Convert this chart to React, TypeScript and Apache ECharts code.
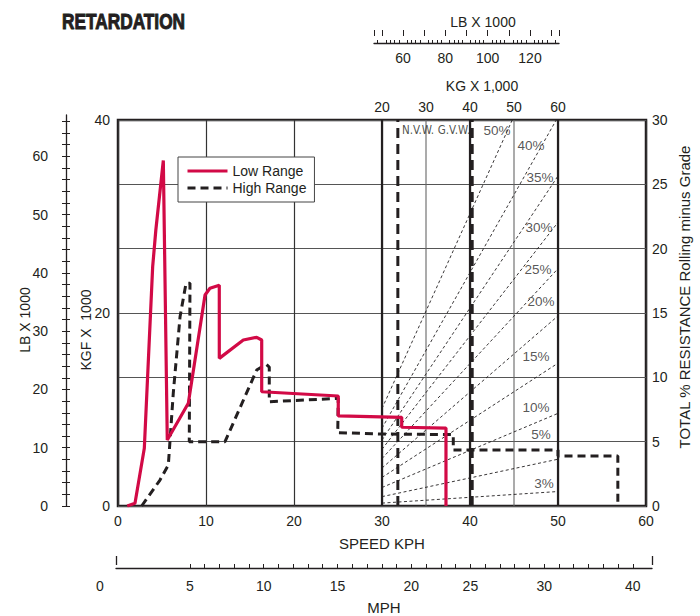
import React, { useEffect, useRef } from "react";
import * as echarts from "echarts";

// ---------- data ----------
// Speed (KPH) vs retarding force (KGF x 1000)
const lowRange: [number, number][] = [
  [1.05, 0], [1.93, 0.28], [2.99, 5.98], [3.94, 24.8], [4.3, 28.6], [5.15, 35.8],
  [5.6, 6.84], [7.99, 10.64], [9.89, 21.87], [10.45, 22.56], [11.51, 22.87],
  [11.51, 15.3], [14.24, 17.2], [15.76, 17.48], [16.33, 17.2], [16.33, 11.84],
  [25.03, 11.4], [25.03, 9.33], [32.24, 9.19], [32.24, 8.16], [37.27, 8.08], [37.27, 0],
];
const highRange: [number, number][] = [
  [2.69, 0], [4.77, 2.69], [5.72, 4.25], [6.28, 11.68], [7.05, 19.6], [7.73, 23.08],
  [8.18, 23.08], [8.1, 6.66], [12.16, 6.66], [15.76, 14.09], [16.82, 14.7], [17.19, 14.4],
  [17.19, 10.8], [25.03, 11.16], [24.97, 7.6], [29.77, 7.46], [38.1, 7.4], [38.1, 5.8],
  [50.0, 5.8], [50.0, 5.18], [56.8, 5.18], [56.8, 0],
];

// Grade (total resistance) lines of the weight nomogram, [kph, kgf] end points
const gradeNames = ["50%", "40%", "35%", "30%", "25%", "20%", "15%", "10%", "5%", "3%"];
const gradeStart: [number, number][] = [
  [30, 10.1], [30, 8.06], [30, 6.84], [30, 5.88], [30, 4.92],
  [30, 3.94], [30, 2.96], [30, 1.92], [30, 0.97], [30, 0.3],
];
const gradeEnd: [number, number][] = [
  [44.8, 40], [49.8, 40], [50, 34.2], [50, 29.4], [50, 24.6],
  [50, 19.7], [50, 14.8], [50, 9.6], [50, 4.85], [50, 1.5],
];
const gradeLabelAt: [number, number][] = [
  [43.07, 38.96], [46.93, 37.31], [47.95, 33.99], [47.84, 28.81], [47.73, 24.46],
  [48.07, 21.14], [47.5, 15.54], [47.5, 10.16], [48.07, 7.46], [48.41, 2.38],
];

// Vehicle weight markers (kph position on the nomogram)
const weightMarkNames = ["N.V.W.", "G.V.W."];
const weightMarkAt = [31.8, 40.25];
const weightMarkLabelAt: [number, number][] = [[34.09, 38.96], [38.18, 38.96]];

// Grid lines
const heavyVerticals = [30, 40, 50];
const lightVerticals = [35, 45];

// Tick labels
const kgLabels = [20, 30, 40, 50, 60];
const mphLabelAt = [0, 5, 10, 15, 20, 24, 29, 35];
const mphLabelText = ["0", "5", "10", "15", "20", "25", "30", "40"];
const mphTicks = [5, 6, 7, 8, 9, 10, 11, 12, 13, 14, 15, 16, 17, 18, 19, 20, 21, 22, 23, 24, 25, 26, 27, 28, 29, 30, 31, 32, 33, 34, 35];
const mphMax = 36.3;
const lbTopLabels = [60, 80, 100, 120];
const lbTopMinor = [48, 52, 54, 56, 58, 62, 64, 66, 68, 72, 74, 76, 78, 82, 84, 86, 88, 92, 94, 96, 98, 102, 104, 106, 108, 112, 114, 116, 118, 122, 124, 126, 128, 132];
const lbTopMajor = [46.3, 50, 60, 70, 80, 90, 100, 110, 120, 130, 133.7];
const lbLeftLabels = [0, 10, 20, 30, 40, 50, 60];
const lbLeftTicks = [0, 2, 4, 6, 8, 10, 12, 14, 16, 18, 20, 22, 24, 26, 28, 30, 32, 34, 36, 38, 40, 42, 44, 46, 48, 50, 52, 54, 56, 58, 60, 62, 64, 66];
const lbLeftMax = 67.1;

const FONT = '"Liberation Sans", Arial, Helvetica, sans-serif';
const NARROW = '"Liberation Sans Narrow", "Arial Narrow", "DejaVu Sans Condensed", sans-serif';
const INK = "#231f20";
const RED = "#d20a46";

export default function App() {
  const ref = useRef<HTMLDivElement>(null);

  useEffect(() => {
    if (!ref.current) return;
    const chart = echarts.init(ref.current, undefined, { renderer: "svg" });

    const tickLabel = { fontSize: 14, color: INK, fontFamily: FONT };

    const series: any[] = [];
    heavyVerticals.forEach((v) =>
      series.push({
        type: "line", xAxisIndex: 0, yAxisIndex: 0, silent: true, symbol: "none", z: 1,
        data: [[v, 0], [v, 40]], lineStyle: { color: INK, width: 2.2 },
      })
    );
    lightVerticals.forEach((v) =>
      series.push({
        type: "line", xAxisIndex: 0, yAxisIndex: 0, silent: true, symbol: "none", z: 1,
        data: [[v, 0], [v, 40]], lineStyle: { color: "#666", width: 1.1 },
      })
    );
    gradeNames.forEach((n, i) =>
      series.push({
        type: "line", name: "grade " + n, xAxisIndex: 0, yAxisIndex: 0, silent: true, symbol: "none", z: 2,
        data: [gradeStart[i], gradeEnd[i]], lineStyle: { color: INK, width: 0.9, type: [3, 2.5] },
      })
    );
    series.push({
      type: "scatter", xAxisIndex: 0, yAxisIndex: 0, silent: true, symbolSize: 0, z: 3,
      data: gradeNames.map((n, i) => ({ name: n, value: gradeLabelAt[i] })),
      label: { show: true, position: "inside", formatter: (p: any) => p.name, fontSize: 13.5, color: "#2b2b2b", fontFamily: FONT },
    });
    weightMarkAt.forEach((v) =>
      series.push({
        type: "line", xAxisIndex: 0, yAxisIndex: 0, silent: true, symbol: "none", z: 3,
        data: [[v, 0], [v, 40]], lineStyle: { color: INK, width: 3, type: [10, 6] },
      })
    );
    series.push({
      type: "scatter", xAxisIndex: 0, yAxisIndex: 0, silent: true, symbolSize: 0, z: 3,
      data: weightMarkNames.map((n, i) => ({ name: n, value: weightMarkLabelAt[i] })),
      label: { show: true, position: "inside", formatter: (p: any) => p.name, fontSize: 11.5, color: INK, fontFamily: NARROW },
    });
    series.push({
      type: "line", name: "High Range", xAxisIndex: 0, yAxisIndex: 0, symbol: "none", z: 5,
      data: highRange, lineStyle: { color: INK, width: 3, type: [8, 5] }, itemStyle: { color: INK },
    });
    series.push({
      type: "line", name: "Low Range", xAxisIndex: 0, yAxisIndex: 0, symbol: "none", z: 6,
      data: lowRange, lineStyle: { color: RED, width: 3.2 }, itemStyle: { color: RED },
    });

    const option: any = {
      animation: false,
      textStyle: { fontFamily: FONT },
      legend: {
        data: ["Low Range", "High Range"],
        left: 178, top: 157, orient: "vertical",
        padding: [7, 8, 7, 8], itemGap: 3, itemWidth: 40, itemHeight: 14,
        backgroundColor: "#fff", borderColor: "#444", borderWidth: 1,
        itemStyle: { opacity: 0, borderWidth: 0 },
        lineStyle: { width: 3 },
        textStyle: { fontSize: 14, color: INK, fontFamily: FONT },
      },
      grid: [
        { left: 118, top: 120, width: 528, height: 386, show: true, borderColor: INK, borderWidth: 2.5, backgroundColor: "transparent" },
        { left: 116, top: 556, width: 536, height: 12 },
        { left: 374, top: 30, width: 185, height: 13 },
        { left: 66, top: 115, width: 1, height: 391 },
      ],
      xAxis: [
        {
          gridIndex: 0, type: "value", min: 0, max: 60, interval: 10,
          axisLine: { show: false }, axisTick: { show: false },
          axisLabel: { ...tickLabel, margin: 8 },
          splitLine: { show: true, lineStyle: { color: "#333", width: 1.2 } },
          name: "SPEED KPH", nameLocation: "middle", nameGap: 30, nameMoveOverlap: false,
          nameTextStyle: { fontSize: 15, color: INK, fontFamily: FONT },
        },
        {
          gridIndex: 0, type: "value", position: "top", min: -40, max: 80, interval: 10,
          axisLine: { show: false }, axisTick: { show: false }, splitLine: { show: false },
          axisLabel: { ...tickLabel, margin: 6, formatter: (v: number) => (kgLabels.indexOf(v) >= 0 ? String(v) : "") },
        },
        {
          gridIndex: 1, type: "value", min: 0, max: mphMax,
          axisLine: { show: true, lineStyle: { color: INK, width: 1.3 } },
          axisTick: { show: true, inside: true, length: 4, customValues: mphTicks, lineStyle: { color: INK, width: 1 } },
          axisLabel: {
            ...tickLabel, margin: 11, customValues: mphLabelAt,
            formatter: (v: number) => {
              const i = mphLabelAt.indexOf(v);
              const t = i >= 0 ? mphLabelText[i] : "";
              return v === 0 ? `{z|${t}}` : t;
            },
            rich: { z: { padding: [0, 32, 0, 0], fontSize: 14, color: INK, fontFamily: FONT } },
          },
          splitLine: { show: false },
          name: "MPH", nameLocation: "middle", nameGap: 32, nameMoveOverlap: false,
          nameTextStyle: { fontSize: 15, color: INK, fontFamily: FONT },
        },
        {
          gridIndex: 1, type: "value", min: 0, max: mphMax,
          axisLine: { show: false },
          axisTick: { show: true, inside: true, length: 9, customValues: [0, mphMax], lineStyle: { color: INK, width: 1.3 } },
          axisLabel: { show: false }, splitLine: { show: false },
        },
        {
          gridIndex: 2, type: "value", min: 46.3, max: 133.7,
          axisLine: { show: true, lineStyle: { color: INK, width: 1.3 } },
          axisTick: { show: true, inside: true, length: 3, customValues: lbTopMinor, lineStyle: { color: INK, width: 1 } },
          axisLabel: { ...tickLabel, margin: 8, customValues: lbTopLabels },
          splitLine: { show: false },
        },
        {
          gridIndex: 2, type: "value", min: 46.3, max: 133.7,
          axisLine: { show: false },
          axisTick: { show: true, inside: true, length: 6, customValues: lbTopMajor, lineStyle: { color: INK, width: 1 } },
          axisLabel: { show: false }, splitLine: { show: false },
        },
        { gridIndex: 3, type: "value", show: false },
      ],
      yAxis: [
        {
          gridIndex: 0, type: "value", min: 0, max: 40, interval: 20,
          axisLine: { show: false }, axisTick: { show: false }, splitLine: { show: false },
          axisLabel: { ...tickLabel, margin: 8 },
        },
        {
          gridIndex: 0, type: "value", position: "right", min: 0, max: 30, interval: 5,
          axisLine: { show: false }, axisTick: { show: false },
          splitLine: { show: true, lineStyle: { color: "#555", width: 1.2 } },
          axisLabel: { ...tickLabel, margin: 6 },
        },
        { gridIndex: 1, type: "value", show: false },
        { gridIndex: 2, type: "value", show: false },
        {
          gridIndex: 3, type: "value", position: "left", min: 0, max: lbLeftMax,
          axisLine: { show: true, lineStyle: { color: INK, width: 1.3 } },
          axisTick: { show: true, inside: false, length: 4, customValues: lbLeftTicks, lineStyle: { color: INK, width: 1 } },
          axisLabel: { ...tickLabel, margin: 18, customValues: lbLeftLabels },
          splitLine: { show: false },
        },
        {
          gridIndex: 3, type: "value", position: "left", min: 0, max: lbLeftMax,
          axisLine: { show: false },
          axisTick: { show: true, inside: true, length: 4, customValues: lbLeftTicks, lineStyle: { color: INK, width: 1 } },
          axisLabel: { show: false }, splitLine: { show: false },
        },
      ],
      graphic: [
        { type: "text", x: 62, y: 21, scaleX: 0.785, style: { text: "RETARDATION", fontSize: 22, fontWeight: "bold", fontFamily: FONT, fill: INK, align: "left", verticalAlign: "middle", stroke: INK, lineWidth: 1 } },
        { type: "text", x: 483, y: 22, style: { text: "LB X 1000", fontSize: 14, fontFamily: FONT, fill: INK, align: "center", verticalAlign: "middle" } },
        { type: "text", x: 482, y: 86, style: { text: "KG X 1,000", fontSize: 14, fontFamily: FONT, fill: INK, align: "center", verticalAlign: "middle" } },
        { type: "text", x: 25, y: 320, rotation: Math.PI / 2, style: { text: "LB X 1000", fontSize: 14, fontFamily: FONT, fill: INK, align: "center", verticalAlign: "middle" } },
        { type: "text", x: 86, y: 330, rotation: Math.PI / 2, style: { text: "KGF X  1000", fontSize: 14, fontFamily: FONT, fill: INK, align: "center", verticalAlign: "middle" } },
        { type: "text", x: 684, y: 297, rotation: Math.PI / 2, style: { text: "TOTAL % RESISTANCE Rolling minus Grade", fontSize: 15, fontFamily: FONT, fill: INK, align: "center", verticalAlign: "middle" } },
      ],
      series,
    };

    chart.setOption(option);
    return () => chart.dispose();
  }, []);

  return <div ref={ref} style={{ position: "absolute", left: 0, top: 0, width: 700, height: 616 }} />;
}
